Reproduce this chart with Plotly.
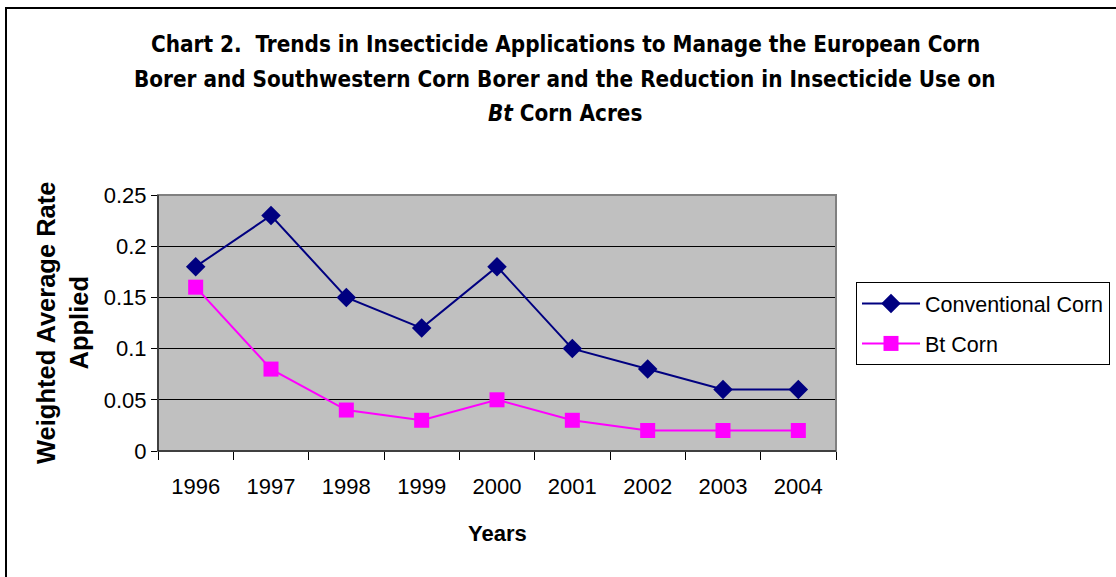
import plotly.graph_objects as go

years = ["1996", "1997", "1998", "1999", "2000", "2001", "2002", "2003", "2004"]
conventional = [0.18, 0.23, 0.15, 0.12, 0.18, 0.10, 0.08, 0.06, 0.06]
bt_corn = [0.16, 0.08, 0.04, 0.03, 0.05, 0.03, 0.02, 0.02, 0.02]
title_lines = [
    "Chart 2.  Trends in Insecticide Applications to Manage the European Corn",
    "Borer and Southwestern Corn Borer and the Reduction in Insecticide Use on",
    "<i>Bt</i> Corn Acres",
]

W, H = 1116, 577
L, R, T, B = 158, 836, 195, 451
pw, ph = R - L, B - T

def px(x):
    return (x - L) / pw

def py(y):
    return (B - y) / ph

fig = go.Figure()
fig.add_trace(go.Scatter(
    x=years, y=conventional, name="Conventional Corn", mode="lines+markers",
    legendgroup="a",
    line=dict(color="#000080", width=2),
    marker=dict(symbol="diamond", size=15, color="#000080"),
))
fig.add_trace(go.Scatter(
    x=years, y=bt_corn, name="Bt Corn", mode="lines+markers",
    legendgroup="b",
    line=dict(color="#FF00FF", width=2),
    marker=dict(symbol="square", size=15, color="#FF00FF"),
))

title_font = dict(family="DejaVu Sans Condensed", size=22.3,
                  color="black", weight="bold")
annotations = []
for line, yc in zip(title_lines, [44, 79, 113]):
    annotations.append(dict(text=line, x=px(565), y=py(yc), xref="paper", yref="paper",
                            xanchor="center", yanchor="middle", showarrow=False,
                            font=title_font))
annotations += [
    dict(text="<b>Weighted Average Rate<br>Applied</b>", textangle=-90,
         x=px(62), y=py(323), xref="paper", yref="paper",
         xanchor="center", yanchor="middle", showarrow=False,
         font=dict(size=25.5, family="Liberation Sans")),
    dict(text="<b>Years</b>", x=px(497), y=py(533), xref="paper", yref="paper",
         xanchor="center", yanchor="middle", showarrow=False,
         font=dict(size=22, family="Liberation Sans")),
]

fig.update_layout(
    width=W, height=H,
    margin=dict(l=L, r=W - R, t=T, b=H - B, autoexpand=False),
    paper_bgcolor="white",
    plot_bgcolor="#C0C0C0",
    font=dict(family="Liberation Sans, Arial", size=22, color="black"),
    showlegend=True,
    legend=dict(
        x=px(856), y=py(282), xanchor="left", yanchor="top",
        bordercolor="black", borderwidth=1, bgcolor="white",
        font=dict(size=21.5, family="Liberation Sans"),
        tracegroupgap=9, itemwidth=58,
    ),
    xaxis=dict(
        type="category", range=[-0.5, 8.5], automargin=False,
        showgrid=False, ticks="outside", tickson="boundaries", ticklen=8,
        tickcolor="black", showline=True, linecolor="black", linewidth=1,
        ticklabelstandoff=16, zeroline=False,
    ),
    yaxis=dict(
        range=[0, 0.25], dtick=0.05, tick0=0, automargin=False,
        showgrid=True, gridcolor="black", gridwidth=1,
        ticks="outside", ticklen=6, tickcolor="black",
        showline=True, linecolor="black", linewidth=1, zeroline=False,
    ),
    annotations=annotations,
    shapes=[
        dict(type="rect", xref="paper", yref="paper", x0=0, x1=1, y0=0, y1=1,
             line=dict(color="#808080", width=2), layer="above"),
        dict(type="line", xref="paper", yref="paper", x0=0, x1=0, y0=0, y1=1,
             line=dict(color="black", width=1), layer="above"),
        dict(type="line", xref="paper", yref="paper", x0=0, x1=1, y0=0, y1=0,
             line=dict(color="black", width=1), layer="above"),
        dict(type="rect", xref="paper", yref="paper",
             x0=px(6), x1=px(1125), y0=py(8), y1=py(590),
             line=dict(color="black", width=2), layer="above"),
    ],
)

fig.write_html("out.html", config={"displayModeBar": False},
               post_script="document.body.style.margin='0';document.body.style.overflow='hidden';")
